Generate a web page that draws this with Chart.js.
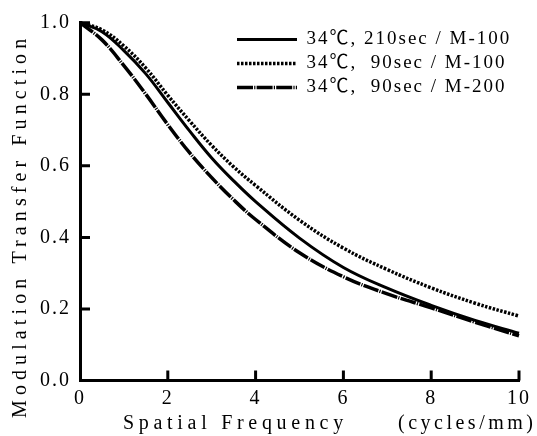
<!DOCTYPE html>
<html>
<head>
<meta charset="utf-8">
<script src="https://cdn.jsdelivr.net/npm/chart.js@4/dist/chart.umd.min.js"></script>
<style>
  html, body { margin: 0; padding: 0; background: #fff; }
  #wrap { width: 537px; height: 436px; }
</style>
</head>
<body>
<div id="wrap"><canvas id="c" width="537" height="436"></canvas></div>
<script>
// Data
const spatialFrequency = [0, 0.5, 1, 1.5, 2, 2.5, 3, 3.5, 4, 5, 6, 7, 8, 9, 10];
const mtf210secM100 = [1.0, 0.975, 0.922, 0.857, 0.777, 0.697, 0.622, 0.558, 0.500, 0.398, 0.316, 0.258, 0.210, 0.168, 0.132];
const mtf90secM100  = [1.0, 0.980, 0.935, 0.873, 0.797, 0.725, 0.657, 0.597, 0.545, 0.448, 0.370, 0.310, 0.259, 0.216, 0.180];
const mtf90secM200  = [1.0, 0.952, 0.880, 0.800, 0.715, 0.636, 0.567, 0.505, 0.450, 0.357, 0.290, 0.242, 0.203, 0.163, 0.125];
const seriesLabels = ['34℃, 210sec / M-100', '34℃,  90sec / M-100', '34℃,  90sec / M-200'];
const xTickValues = [0, 2, 4, 6, 8, 10];
const yTickValues = [0, 0.2, 0.4, 0.6, 0.8, 1.0];
const yAxisTitle = 'Modulation Transfer Function';
const xAxisTitle = 'Spatial Frequency';
const xAxisUnit = '(cycles/mm)';

const FONT = "'Liberation Serif', 'Times New Roman', 'Noto Sans CJK JP', serif";

function toPoints(arr) { return spatialFrequency.map((x, i) => ({ x: x, y: arr[i] })); }

const spacingPlugin = {
  id: 'spacing',
  beforeUpdate(chart) { chart.ctx.letterSpacing = '2px'; },
  beforeDraw(chart) { chart.ctx.letterSpacing = '2px'; },
  afterLayout(chart) {
    const lg = chart.legend;
    if (lg) {
      const w = lg.width, h = lg.height;
      lg.left = 232; lg.top = 25; lg.right = 232 + w; lg.bottom = 25 + h;
    }
  },
  afterDraw(chart) {
    const ctx = chart.ctx;
    const xs = chart.scales.x, ys = chart.scales.y;
    const area = chart.chartArea;
    ctx.save();
    // inward tick marks
    ctx.strokeStyle = '#000';
    ctx.lineWidth = 3;
    ctx.beginPath();
    yTickValues.forEach(v => {
      if (v === 0) return;
      const py = ys.getPixelForValue(v);
      ctx.moveTo(area.left, py); ctx.lineTo(area.left + 10, py);
    });
    xTickValues.forEach(v => {
      if (v === 0) return;
      const px = xs.getPixelForValue(v);
      ctx.moveTo(px, area.bottom); ctx.lineTo(px, area.bottom - 10);
    });
    ctx.stroke();
    // axis titles
    ctx.fillStyle = '#000';
    ctx.font = '20px ' + FONT;
    ctx.textBaseline = 'middle';
    ctx.letterSpacing = '5.1px';
    ctx.textAlign = 'left';
    ctx.save();
    ctx.translate(21, 418);
    ctx.rotate(-Math.PI / 2);
    ctx.fillText(yAxisTitle, 0, 0);
    ctx.restore();
    ctx.letterSpacing = '4.7px';
    ctx.fillText(xAxisTitle, 123, 424);
    ctx.letterSpacing = '3.5px';
    ctx.fillText(xAxisUnit, 398, 424);
    ctx.restore();
  }
};

new Chart(document.getElementById('c'), {
  type: 'line',
  data: {
    datasets: [
      { label: seriesLabels[0], data: toPoints(mtf210secM100), borderColor: '#000', backgroundColor: '#000',
        borderWidth: 3, borderDash: [], pointRadius: 0, tension: 0.4, clip: 6 },
      { label: seriesLabels[1], data: toPoints(mtf90secM100), borderColor: '#000', backgroundColor: '#000',
        borderWidth: 3.5, borderDash: [2.5, 1.5], pointRadius: 0, tension: 0.4, clip: 6 },
      { label: seriesLabels[2], data: toPoints(mtf90secM200), borderColor: '#000', backgroundColor: '#000',
        borderWidth: 3.5, borderDash: [16, 1.2, 1.2, 1.2], pointRadius: 0, tension: 0.4, clip: 6 }
    ]
  },
  options: {
    responsive: false,
    animation: false,
    devicePixelRatio: 1,
    layout: { padding: { top: 22.7, right: 10, left: 0, bottom: 0 } },
    plugins: {
      tooltip: { enabled: false },
      legend: {
        display: true,
        position: 'chartArea',
        align: 'start',
        labels: {
          usePointStyle: true,
          pointStyle: 'line',
          pointStyleWidth: 60,
          boxHeight: 3,
          padding: 5,
          color: '#000',
          font: { family: FONT, size: 19, lineHeight: 1.15 },
          generateLabels: chart => chart.data.datasets.map((ds, i) => ({
            text: ds.label,
            datasetIndex: i,
            fillStyle: ds.borderColor,
            strokeStyle: ds.borderColor,
            lineWidth: ds.borderWidth,
            lineDash: ds.borderDash,
            lineCap: 'butt',
            pointStyle: 'line',
            hidden: false,
            fontColor: '#000'
          }))
        }
      }
    },
    scales: {
      x: {
        type: 'linear',
        min: 0, max: 10,
        afterBuildTicks: s => { s.ticks = xTickValues.map(v => ({ value: v })); },
        ticks: { color: '#000', font: { family: FONT, size: 20 }, padding: 6, maxRotation: 0,
                 callback: v => String(v) },
        grid: { display: true, drawOnChartArea: false, drawTicks: false },
        border: { display: true, color: '#000', width: 3 },
        afterFit: s => { s.height = 55.5; }
      },
      y: {
        type: 'linear',
        min: 0, max: 1,
        afterBuildTicks: s => { s.ticks = yTickValues.map(v => ({ value: v })); },
        ticks: { color: '#000', font: { family: FONT, size: 20 }, padding: 9,
                 callback: v => Number(v).toFixed(1) },
        grid: { display: true, drawOnChartArea: false, drawTicks: false },
        border: { display: true, color: '#000', width: 3 },
        afterFit: s => { s.width = 80; }
      }
    }
  },
  plugins: [spacingPlugin]
});
</script>
</body>
</html>
